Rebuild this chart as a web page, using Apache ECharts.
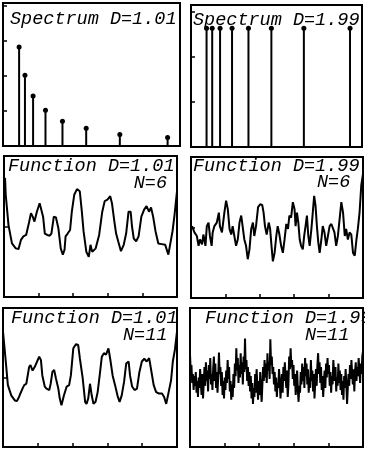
<!DOCTYPE html>
<html>
<head>
<meta charset="utf-8">
<script src="https://cdn.jsdelivr.net/npm/echarts@6/dist/echarts.min.js"></script>
<style>
  html, body { margin: 0; padding: 0; background: #fff; }
  #chart { width: 365px; height: 450px; }
</style>
</head>
<body>
<div id="chart"></div>
<script>
  // spectrum: frequencies (same for both D) and amplitudes
  const freqs = [0.91, 1.24, 1.70, 2.40, 3.36, 4.70, 6.60, 9.30];
  const ampD101 = [2.83, 2.02, 1.43, 1.02, 0.71, 0.51, 0.33, 0.24];
  const ampD199 = [2.64, 2.64, 2.64, 2.64, 2.64, 2.64, 2.64, 2.64];

  // D=1.01, N=6  [t, f]
  const fnD101N6 = [
    [0.03, 0.69], [0.05, 0.45], [0.13, 0.02], [0.23, -0.24], [0.34, -0.31], [0.42, -0.32],
    [0.49, -0.19], [0.56, -0.14], [0.64, -0.12], [0.72, 0.05], [0.78, 0.19], [0.83, 0.14],
    [0.88, 0.07], [0.95, 0.21], [1.03, 0.33], [1.08, 0.31], [1.13, 0.14], [1.18, -0.10],
    [1.25, -0.12], [1.32, -0.13], [1.37, -0.10], [1.44, 0.14], [1.50, 0.13], [1.57, -0.02],
    [1.64, -0.31], [1.70, -0.40], [1.75, -0.33], [1.78, -0.14], [1.84, -0.10], [1.91, -0.05],
    [1.96, 0.21], [2.03, 0.45], [2.11, 0.53], [2.19, 0.50], [2.25, 0.21], [2.30, -0.07],
    [2.38, -0.36], [2.45, -0.43], [2.50, -0.26], [2.55, -0.36], [2.65, -0.31], [2.75, -0.12],
    [2.84, 0.21], [2.91, 0.36], [2.99, 0.38], [3.07, 0.43], [3.12, 0.33], [3.19, 0.07],
    [3.24, -0.10], [3.30, -0.21], [3.38, -0.35], [3.46, -0.26], [3.53, -0.10], [3.60, 0.21],
    [3.66, 0.21], [3.70, 0.00], [3.75, -0.17], [3.82, -0.21], [3.89, -0.14], [3.97, 0.14],
    [4.05, 0.24], [4.12, 0.29], [4.19, 0.21], [4.25, 0.27], [4.31, 0.14], [4.38, -0.07],
    [4.46, -0.24], [4.56, -0.25], [4.66, -0.26], [4.75, -0.40], [4.80, -0.26], [4.87, -0.07],
    [4.93, 0.17], [4.97, 0.36], [5.00, 0.50]
  ];

  // D=1.99, N=6
  const fnD199N6 = [
    [0.03, 0.02], [0.10, -0.07], [0.17, -0.12], [0.22, -0.26], [0.26, -0.17], [0.32, -0.24],
    [0.36, -0.10], [0.42, -0.26], [0.46, 0.02], [0.51, 0.07], [0.55, -0.12], [0.60, -0.26],
    [0.63, -0.07], [0.68, 0.02], [0.75, 0.07], [0.81, 0.21], [0.84, 0.02], [0.90, -0.07],
    [0.97, 0.21], [1.02, 0.38], [1.07, 0.26], [1.12, -0.02], [1.17, -0.10], [1.21, 0.02],
    [1.26, -0.12], [1.31, -0.26], [1.36, -0.17], [1.41, 0.07], [1.46, 0.17], [1.50, 0.02],
    [1.55, -0.17], [1.60, -0.26], [1.65, -0.45], [1.70, -0.31], [1.75, -0.02], [1.80, 0.07],
    [1.84, -0.12], [1.89, 0.02], [1.95, 0.29], [2.01, 0.33], [2.07, 0.32], [2.11, 0.21],
    [2.15, 0.02], [2.20, -0.10], [2.26, 0.07], [2.30, -0.02], [2.34, -0.26], [2.38, -0.48],
    [2.43, -0.36], [2.48, -0.12], [2.52, 0.02], [2.57, -0.10], [2.62, -0.26], [2.67, -0.36],
    [2.72, -0.17], [2.77, 0.05], [2.82, -0.02], [2.86, 0.17], [2.91, 0.14], [2.96, 0.36],
    [3.01, 0.26], [3.04, 0.02], [3.08, 0.21], [3.12, 0.07], [3.16, -0.17], [3.20, -0.26],
    [3.25, -0.31], [3.29, -0.12], [3.33, 0.02], [3.37, 0.17], [3.41, -0.12], [3.45, -0.26],
    [3.50, -0.02], [3.54, 0.21], [3.58, 0.45], [3.62, 0.31], [3.66, 0.02], [3.70, -0.21],
    [3.74, -0.36], [3.79, -0.17], [3.83, 0.02], [3.88, -0.07], [3.93, -0.26], [3.98, -0.12],
    [4.03, 0.02], [4.08, 0.05], [4.13, 0.07], [4.17, -0.07], [4.22, -0.26], [4.27, -0.12],
    [4.32, 0.12], [4.37, 0.36], [4.42, 0.21], [4.47, -0.12], [4.51, -0.02], [4.56, -0.17],
    [4.61, -0.07], [4.66, -0.10], [4.71, -0.36], [4.76, -0.40], [4.81, -0.17], [4.85, -0.02],
    [4.90, 0.21], [4.95, 0.60], [5.00, 0.76]
  ];

  // D=1.01, N=11
  const fnD101N11 = [
    [0.00, 0.66], [0.08, 0.23], [0.14, -0.11], [0.24, -0.26], [0.34, -0.33], [0.40, -0.34],
    [0.46, -0.28], [0.50, -0.23], [0.56, -0.16], [0.61, -0.11], [0.67, -0.09], [0.75, 0.15],
    [0.79, 0.18], [0.85, 0.10], [0.91, 0.15], [0.98, 0.23], [1.04, 0.30], [1.09, 0.25],
    [1.13, 0.03], [1.20, -0.13], [1.25, -0.16], [1.33, -0.18], [1.37, -0.09], [1.42, 0.08],
    [1.47, 0.11], [1.52, -0.01], [1.59, -0.16], [1.63, -0.30], [1.68, -0.40], [1.75, -0.26],
    [1.83, -0.13], [1.90, -0.11], [1.95, 0.03], [2.02, 0.42], [2.10, 0.48], [2.16, 0.47],
    [2.21, 0.27], [2.29, -0.01], [2.36, -0.35], [2.40, -0.38], [2.45, -0.30], [2.50, -0.09],
    [2.55, -0.26], [2.60, -0.38], [2.66, -0.35], [2.72, -0.21], [2.79, 0.08], [2.84, 0.30],
    [2.90, 0.35], [2.96, 0.33], [3.03, 0.42], [3.08, 0.27], [3.15, 0.03], [3.22, -0.11],
    [3.29, -0.26], [3.35, -0.35], [3.41, -0.26], [3.48, -0.06], [3.54, 0.20], [3.61, 0.23],
    [3.65, 0.03], [3.71, -0.13], [3.78, -0.18], [3.85, -0.16], [3.92, 0.08], [3.99, 0.23],
    [4.06, 0.27], [4.13, 0.23], [4.20, 0.28], [4.25, 0.13], [4.33, -0.11], [4.40, -0.21],
    [4.48, -0.23], [4.57, -0.23], [4.63, -0.28], [4.69, -0.38], [4.76, -0.21], [4.83, -0.04],
    [4.88, 0.23], [4.94, 0.40], [5.00, 0.66]
  ];

  // D=1.99, N=11, sampled evenly over t = 0..5
  const fnD199N11 = [
    0.33, 0.10, 0.18, -0.08, 0.05, -0.18, 0.02, -0.12, 0.08, -0.22,
    -0.05, -0.28, 0.00, -0.15, 0.12, -0.10, -0.25, 0.05, -0.30, -0.08,
    0.15, -0.12, 0.22, -0.05, 0.10, -0.20, 0.18, -0.02, 0.28, -0.10,
    0.05, -0.18, 0.12, 0.30, -0.05, 0.20, -0.15, 0.08, -0.22, 0.02,
    0.36, 0.05, 0.15, -0.12, 0.08, -0.25, -0.05, -0.30, 0.00, -0.18,
    0.10, -0.08, 0.25, -0.02, 0.15, -0.20, -0.05, -0.32, -0.10, -0.28,
    0.05, -0.15, 0.20, 0.02, 0.42, 0.10, 0.28, -0.08, 0.18, 0.00,
    0.35, 0.05, 0.22, -0.10, 0.30, 0.08, 0.56, 0.12, 0.25, -0.05,
    0.15, -0.12, 0.08, -0.20, 0.02, -0.30, -0.08, -0.38, -0.15, -0.28,
    0.05, -0.22, 0.12, -0.10, -0.32, -0.05, -0.25, 0.08, -0.18, -0.35,
    -0.10, 0.15, -0.05, 0.25, 0.00, 0.20, -0.08, 0.35, 0.10, 0.22,
    -0.02, 0.55, 0.18, 0.30, 0.05, 0.15, -0.10, 0.08, -0.20, 0.00,
    -0.28, -0.08, -0.15, 0.12, -0.05, -0.30, -0.12, 0.05, -0.22, 0.15,
    -0.05, 0.22, 0.02, -0.15, 0.10, -0.28, -0.10, 0.30, 0.12, 0.42,
    0.15, 0.25, -0.02, 0.18, -0.12, 0.05, -0.25, -0.08, 0.10, -0.18,
    -0.35, -0.12, -0.22, 0.08, -0.10, 0.20, -0.05, 0.15, -0.15, 0.28,
    0.02, 0.20, -0.10, 0.12, -0.22, 0.00, -0.15, 0.25, -0.05, 0.10,
    -0.20, 0.05, -0.30, -0.08, 0.12, -0.12, 0.18, 0.35, 0.05, 0.22,
    -0.08, 0.15, -0.18, 0.02, -0.28, -0.05, 0.10, -0.15, 0.20, 0.00,
    0.28, 0.05, 0.18, -0.12, 0.08, -0.22, 0.02, -0.10, 0.25, 0.08,
    -0.05, 0.15, -0.20, 0.00, -0.12, 0.20, -0.08, 0.10, -0.18, 0.05,
    -0.25, -0.05, -0.32, 0.02, -0.15, 0.12, -0.10, -0.38, -0.15, 0.05,
    -0.12, 0.18, -0.02, 0.25, 0.05, -0.10, 0.12, -0.20, 0.08, 0.22,
    -0.05, 0.15, 0.02, 0.28, 0.10, -0.08, 0.20, 0.05, 0.30, 0.38
  ];

  let chart = echarts.init(document.getElementById("chart"));

  const ink = "#000";
  const titleFont = {
    fontFamily: "Liberation Mono",
    fontStyle: "italic",
    fontSize: 18.5,
    fontWeight: "normal",
    color: ink
  };

  function ttl(text, pos) {
    return Object.assign({ text: text, textStyle: titleFont, padding: 0 }, pos);
  }

  function grid(left, top, width, height) {
    return {
      left: left, top: top, width: width, height: height,
      show: true, borderColor: ink, borderWidth: 2, backgroundColor: "transparent"
    };
  }

  function xAx(idx, max, ticks) {
    return {
      type: "value", gridIndex: idx, min: 0, max: max, interval: 1,
      axisLine: { show: false, onZero: false },
      axisTick: { show: ticks, inside: true, length: 4, lineStyle: { color: ink, width: 1.5 } },
      axisLabel: { show: false },
      splitLine: { show: false }
    };
  }

  function yAx(idx, min, max) {
    return {
      type: "value", gridIndex: idx, min: min, max: max, interval: 1,
      axisLine: { show: false, onZero: false },
      axisTick: { show: true, inside: true, length: 4, lineStyle: { color: ink, width: 1.5 } },
      axisLabel: { show: false },
      splitLine: { show: false }
    };
  }

  function stems(idx, amps) {
    let pts = freqs.map((f, i) => [f, amps[i]]);
    return [
      {
        type: "bar", xAxisIndex: idx, yAxisIndex: idx, data: pts,
        barWidth: 2, itemStyle: { color: ink }, silent: true
      },
      {
        type: "scatter", xAxisIndex: idx, yAxisIndex: idx, data: pts,
        symbolSize: 5, itemStyle: { color: ink, opacity: 1 }, silent: true
      }
    ];
  }

  function curve(idx, data, w) {
    return {
      type: "line", xAxisIndex: idx, yAxisIndex: idx, data: data,
      showSymbol: false, lineStyle: { color: ink, width: w }, silent: true
    };
  }

  const stepN11 = 5 / (fnD199N11.length - 1);

  let option = {
    backgroundColor: "#fff",
    animation: false,
    title: [
      ttl("Spectrum D=1.01", { left: 10, top: 10 }),
      ttl("Spectrum D=1.99", { left: 193, top: 11 }),
      ttl("Function D=1.01", { left: 8, top: 157 }),
      ttl("N=6", { right: 198, top: 174 }),
      ttl("Function D=1.99", { left: 193, top: 157 }),
      ttl("N=6", { left: 317, top: 173 }),
      ttl("Function D=1.01", { left: 11, top: 309 }),
      ttl("N=11", { left: 123, top: 326 }),
      ttl("Function D=1.99", { left: 205, top: 309 }),
      ttl("N=11", { left: 305, top: 326 })
    ],
    grid: [
      grid(3, 3, 177, 143),
      grid(191, 5, 171, 142),
      grid(4, 156, 173, 141),
      grid(191, 157, 172, 141),
      grid(3, 308, 174, 139),
      grid(190, 308, 173, 139)
    ],
    xAxis: [
      xAx(0, 10, false), xAx(1, 10, false),
      xAx(2, 5, true), xAx(3, 5, true),
      xAx(4, 5, true), xAx(5, 5, true)
    ],
    yAxis: [
      yAx(0, 0, 4.09), yAx(1, 0, 3.16),
      yAx(2, -1, 1), yAx(3, -1, 1),
      yAx(4, -1, 1), yAx(5, -1, 1)
    ],
    series: [].concat(
      stems(0, ampD101),
      stems(1, ampD199),
      [
        curve(2, fnD101N6, 2),
        curve(3, fnD199N6, 2),
        curve(4, fnD101N11, 2),
        curve(5, fnD199N11.map((v, i) => [i * stepN11, v]), 2)
      ]
    )
  };

  chart.setOption(option);
  window.addEventListener("resize", () => {
    chart.resize();
  });
</script>
</body>
</html>
